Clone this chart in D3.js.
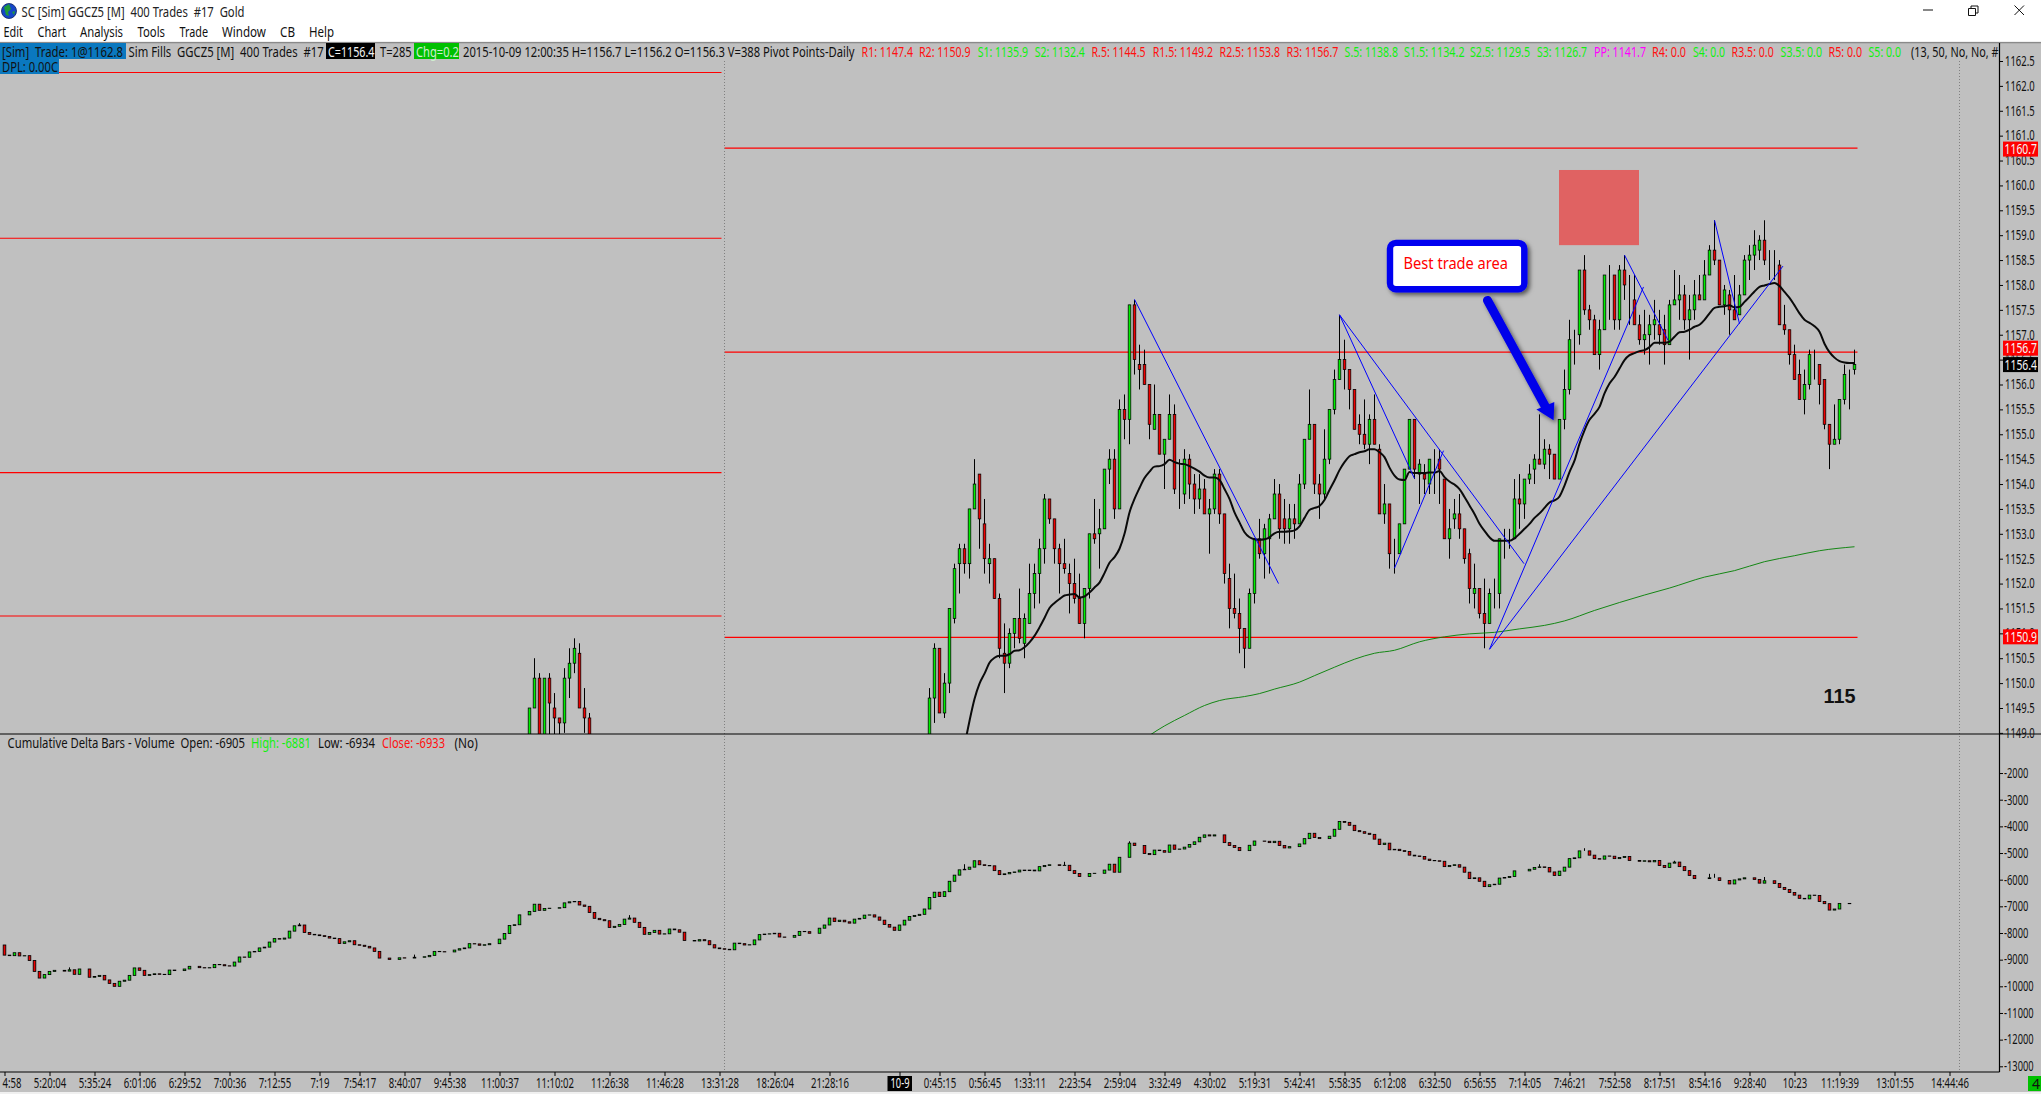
<!DOCTYPE html>
<html>
<head>
<meta charset="utf-8">
<title>SC GGCZ5 400 Trades</title>
<script src="https://cdn.jsdelivr.net/npm/d3@7"></script>
<style>
  html, body { margin: 0; padding: 0; background: #fff; overflow: hidden; }
  svg { display: block; }
  text { font-family: "Liberation Sans Narrow", "Noto Sans", sans-serif; font-size: 13.5px; fill: #111; }
</style>
</head>
<body>
<div id="chart"></div>
<script>
(function () {
  'use strict';

  // Price candles: bars 105-117 poke into the pane, 118-184 sit below it
  var barIndex = d3.range(105, 118).concat(d3.range(185, 371));
  var barOpen = [
    1148.8,1149.5,1150.1,1148.8,1150.1,1149.5,1149.3,1149.2,1150.1,1150.4,1150.6,1149.5,1149.3,
    1148.8,1149.7,1150.7,1149.4,1150.0,1151.3,1152.4,1152.7,1152.4,1153.5,
    1154.2,1153.2,1152.4,1152.5,1151.7,1150.6,1150.4,1151.0,1151.3,1150.8,
    1151.2,1151.8,1152.2,1152.7,1153.7,1153.3,1152.7,1152.4,1152.2,1152.0,
    1151.7,1151.2,1151.9,1153.0,1153.0,1153.1,1154.3,1154.5,1153.5,1155.5,
    1155.3,1157.6,1156.4,1156.4,1156.0,1155.1,1155.4,1154.6,1154.9,1155.4,
    1153.9,1153.8,1154.5,1154.0,1153.7,1153.9,1153.4,1153.5,1154.2,1153.4,
    1152.1,1151.5,1151.4,1151.1,1150.7,1151.8,1152.9,1152.6,1152.9,1153.3,
    1153.8,1153.3,1153.1,1153.3,1153.2,1154.0,1154.9,1155.2,1154.0,1153.8,
    1154.5,1155.5,1156.1,1156.5,1156.3,1155.9,1155.2,1155.0,1154.8,1155.3,
    1154.7,1153.4,1153.6,1152.6,1152.6,1153.2,1154.3,1155.3,1154.2,1154.2,
    1154.0,1154.5,1154.5,1154.1,1152.9,1153.3,1153.4,1153.1,1152.6,1151.8,
    1151.9,1151.4,1151.2,1151.8,1151.8,1152.9,1152.9,1152.9,1153.7,1153.6,
    1154.1,1154.3,1154.5,1154.4,1154.7,1154.6,1154.1,1155.3,1155.9,1156.9,
    1157.0,1158.3,1157.5,1157.3,1156.6,1157.1,1158.2,1158.2,1157.3,1158.3,
    1157.8,1157.7,1157.2,1156.9,1157.0,1157.2,1157.2,1157.1,1156.8,1157.6,
    1157.7,1157.8,1157.3,1157.5,1157.8,1157.7,1158.2,1158.7,1158.5,1157.6,
    1157.8,1157.5,1157.4,1157.8,1158.5,1158.6,1158.7,1158.9,1158.4,1158.4,
    1158.4,1157.2,1157.1,1156.6,1156.2,1155.7,1156.0,1156.6,1156.4,1156.1,
    1155.2,1154.8,1154.9,1155.7,1156.2,1156.3
  ];
  var barClose = [
    1149.5,1150.1,1148.8,1150.1,1149.6,1149.3,1149.2,1150.1,1150.4,1150.7,1149.5,1149.3,1148.8,
    1149.7,1150.7,1149.4,1150.0,1151.5,1152.3,1152.7,1152.4,1153.5,1154.0,
    1153.3,1152.5,1152.5,1151.7,1150.7,1150.4,1151.0,1151.3,1150.9,1151.3,
    1151.8,1152.2,1152.7,1153.7,1153.3,1152.7,1152.4,1152.3,1152.0,1151.7,
    1151.2,1151.9,1153.0,1152.9,1153.1,1154.3,1154.5,1153.5,1155.5,1155.3,
    1157.6,1156.5,1156.3,1156.0,1155.2,1155.4,1154.6,1154.9,1155.4,1153.9,
    1153.9,1154.5,1154.0,1153.7,1153.9,1153.4,1153.5,1154.2,1153.4,1152.2,
    1151.5,1151.4,1151.1,1150.7,1151.8,1152.9,1152.6,1153.1,1153.3,1153.8,
    1153.1,1153.1,1153.3,1153.2,1154.0,1154.9,1155.2,1154.0,1153.8,1154.5,
    1155.5,1156.1,1156.5,1156.3,1155.9,1155.1,1155.0,1154.8,1155.3,1154.8,
    1153.4,1153.6,1152.6,1152.6,1153.2,1154.3,1155.3,1154.3,1154.4,1154.1,
    1154.5,1154.5,1154.3,1152.9,1153.1,1153.4,1153.1,1152.5,1151.9,1151.9,
    1151.4,1151.2,1151.8,1151.8,1152.9,1152.9,1152.9,1153.7,1153.6,1154.1,
    1154.2,1154.5,1154.4,1154.7,1154.6,1154.1,1155.3,1155.9,1156.9,1156.9,
    1158.3,1157.5,1157.3,1156.6,1157.1,1158.2,1158.2,1157.3,1158.3,1158.0,
    1157.8,1157.2,1156.9,1157.0,1157.2,1157.3,1157.0,1156.8,1157.6,1157.7,
    1157.8,1157.3,1157.5,1157.8,1157.7,1158.2,1158.7,1158.5,1157.6,1157.9,
    1157.5,1157.3,1157.8,1158.5,1158.6,1158.8,1158.9,1158.5,1158.4,1158.4,
    1157.2,1157.1,1156.6,1156.1,1155.7,1156.0,1156.6,1156.6,1156.0,1155.2,
    1154.8,1154.9,1155.7,1156.2,1156.2,1156.4
  ];
  var barHigh = [
    1149.5,1150.5,1150.2,1150.1,1150.2,1149.8,1149.3,1150.3,1150.7,1150.9,1150.8,1149.9,1149.4,
    1149.9,1150.8,1150.7,1150.2,1151.5,1152.4,1152.8,1152.8,1153.5,1154.5,
    1154.2,1153.7,1152.8,1152.5,1151.8,1151.2,1151.1,1151.3,1151.9,1151.4,
    1152.4,1152.4,1152.9,1153.8,1153.7,1153.3,1152.8,1152.9,1152.4,1152.5,
    1152.2,1151.9,1153.0,1153.7,1153.5,1154.3,1154.7,1154.7,1155.7,1155.8,
    1157.6,1157.7,1156.8,1156.7,1156.0,1156.0,1155.4,1154.9,1155.8,1155.6,
    1154.5,1154.7,1154.6,1154.2,1154.2,1154.1,1153.7,1154.3,1154.3,1153.4,
    1152.4,1152.2,1151.7,1151.1,1151.9,1152.9,1153.3,1153.2,1153.4,1154.1,
    1154.0,1153.7,1153.6,1153.6,1154.2,1154.9,1155.9,1155.2,1154.2,1155.1,
    1155.5,1156.3,1157.4,1156.9,1156.3,1155.9,1155.4,1155.7,1155.4,1155.8,
    1154.8,1154.0,1153.6,1152.9,1153.2,1154.3,1155.3,1155.3,1154.5,1154.4,
    1154.5,1154.7,1154.7,1154.1,1153.5,1153.7,1153.8,1153.1,1152.7,1152.4,
    1151.9,1152.1,1151.9,1152.1,1152.9,1153.1,1153.1,1154.1,1154.2,1154.1,
    1154.4,1154.6,1155.4,1154.9,1154.8,1154.6,1155.3,1156.3,1157.3,1157.1,
    1158.3,1158.6,1157.6,1157.4,1157.3,1158.2,1158.4,1158.2,1158.4,1158.6,
    1158.2,1158.2,1157.4,1157.5,1157.4,1157.7,1157.5,1157.4,1157.7,1158.3,
    1158.2,1158.0,1157.8,1158.1,1158.2,1158.5,1158.8,1159.3,1158.5,1158.0,
    1157.9,1158.2,1158.0,1158.6,1158.8,1159.1,1159.0,1159.3,1158.7,1158.7,
    1158.5,1157.6,1157.1,1156.8,1156.5,1156.3,1156.7,1156.7,1156.4,1156.1,
    1155.2,1155.6,1155.7,1156.4,1156.3,1156.7
  ];
  var barLow = [
    1148.8,1149.5,1148.8,1148.8,1148.8,1148.8,1148.8,1149.0,1149.7,1150.2,1149.5,1149.0,1148.8,
    1148.8,1149.2,1149.4,1149.3,1149.8,1151.2,1151.8,1152.2,1152.1,1153.5,
    1152.7,1152.2,1152.0,1151.7,1150.5,1149.8,1150.3,1150.7,1150.8,1150.5,
    1151.2,1151.5,1151.6,1152.4,1153.2,1152.4,1151.8,1152.2,1151.4,1151.6,
    1151.2,1150.9,1151.7,1152.8,1152.3,1153.1,1154.0,1153.3,1153.5,1154.9,
    1154.8,1156.2,1155.9,1156.0,1154.9,1155.1,1154.6,1153.9,1154.9,1153.8,
    1153.5,1153.6,1153.7,1153.4,1153.5,1153.4,1152.6,1153.4,1153.2,1152.0,
    1151.1,1151.3,1150.6,1150.3,1150.7,1151.6,1152.5,1152.1,1152.2,1153.3,
    1152.9,1152.8,1152.8,1152.9,1153.2,1153.9,1154.9,1153.8,1153.3,1153.7,
    1154.4,1155.4,1156.1,1155.9,1155.5,1155.1,1154.8,1154.7,1154.4,1154.8,
    1153.4,1153.2,1152.3,1152.2,1152.6,1153.2,1154.3,1154.1,1153.6,1153.8,
    1153.8,1153.8,1153.6,1152.9,1152.5,1153.1,1152.9,1152.4,1151.6,1151.5,
    1151.3,1150.7,1151.2,1151.5,1151.5,1152.5,1152.7,1152.9,1153.1,1153.3,
    1154.0,1154.0,1154.4,1154.3,1154.1,1154.1,1154.1,1155.1,1155.8,1156.4,
    1156.8,1157.4,1157.1,1156.6,1156.3,1157.1,1157.3,1157.1,1157.1,1157.7,
    1157.2,1157.2,1156.8,1156.6,1156.4,1156.9,1156.8,1156.4,1156.8,1157.6,
    1157.3,1157.1,1156.5,1157.3,1157.7,1157.7,1158.2,1158.4,1157.6,1157.4,
    1157.0,1157.3,1157.4,1157.8,1158.1,1158.3,1158.5,1158.4,1158.1,1158.1,
    1157.2,1157.0,1156.4,1156.1,1155.7,1155.4,1155.9,1156.1,1155.6,1155.1,
    1154.3,1154.8,1154.8,1155.6,1155.5,1156.2
  ];

  // 13 period average, one value per bar from bar 192 on
  var fastMaBars = d3.range(192, 371);
  var fastMa = [
    1148.74,1149.24,1149.68,1149.99,1150.19,1150.41,1150.51,1150.55,1150.55,1150.58,1150.65,1150.66,1150.72,
    1150.82,1150.95,1151.12,1151.31,1151.51,1151.61,1151.69,1151.76,1151.78,1151.79,
    1151.72,1151.74,1151.82,1151.92,1152.02,1152.21,1152.42,1152.53,1152.70,1153.00,
    1153.43,1153.70,1153.92,1154.12,1154.25,1154.35,1154.36,1154.40,1154.49,1154.44,
    1154.41,1154.40,1154.36,1154.31,1154.25,1154.17,1154.13,1154.13,1154.08,1153.90,
    1153.70,1153.43,1153.23,1153.03,1152.93,1152.89,1152.88,1152.89,1152.93,1153.01,
    1153.04,1153.04,1153.05,1153.07,1153.15,1153.32,1153.48,1153.52,1153.56,1153.68,
    1153.88,1154.07,1154.28,1154.44,1154.56,1154.60,1154.64,1154.66,1154.70,1154.70,
    1154.64,1154.54,1154.33,1154.17,1154.09,1154.08,1154.24,1154.22,1154.22,1154.22,
    1154.23,1154.23,1154.26,1154.14,1154.05,1153.99,1153.90,1153.74,1153.57,1153.40,
    1153.20,1153.06,1152.93,1152.86,1152.86,1152.86,1152.86,1152.91,1153.00,1153.10,
    1153.20,1153.32,1153.41,1153.52,1153.63,1153.67,1153.75,1153.97,1154.24,1154.47,
    1154.81,1155.08,1155.29,1155.41,1155.55,1155.82,1156.02,1156.15,1156.32,1156.49,
    1156.59,1156.63,1156.67,1156.69,1156.75,1156.84,1156.84,1156.84,1156.86,1156.96,
    1157.05,1157.06,1157.10,1157.16,1157.20,1157.30,1157.43,1157.54,1157.56,1157.57,
    1157.59,1157.55,1157.56,1157.66,1157.76,1157.87,1157.96,1157.99,1158.02,1158.04,
    1157.98,1157.86,1157.74,1157.59,1157.43,1157.30,1157.24,1157.17,1157.06,1156.82,
    1156.65,1156.54,1156.47,1156.44,1156.43,1156.43
  ];

  // 50 period average
  var slowMaBars = [228,229,232,236,240,243,248,251,254,259,262,266,270,274,278,283,288,293,298,303,308,312,318,323,328,333,340,346,352,358,363,370];
  var slowMa = [1148.88,1148.95,1149.14,1149.35,1149.55,1149.65,1149.73,1149.79,1149.88,1150.02,1150.15,1150.32,1150.48,1150.60,1150.66,1150.83,1150.93,1150.99,1151.02,1151.09,1151.16,1151.25,1151.46,1151.62,1151.77,1151.91,1152.13,1152.26,1152.44,1152.56,1152.66,1152.74];

  // Pivot lines per session
  var pivotsDayOne = [1162.27, 1158.94, 1154.23, 1151.35];
  var pivotsDayTwo = [1160.75, 1156.65, 1150.92];
  var dayBreakBar = 144;
  var lastBar = 370;

  var priceTicks = d3.range(1162.5, 1148.9, -0.5);
  var deltaTicks = d3.range(-2000, -13001, -1000);

  // Cumulative delta, close of every bar (each bar opens at the previous close)
  var deltaFirstOpen = -8450;
  var deltaClose = [
    -8830,-8850,-8740,-8860,-8850,-9030,-9440,-9690,-9560,-9440,
    -9400,-9400,-9430,-9380,-9550,-9350,-9350,-9660,-9630,-9590,
    -9760,-9890,-10000,-9810,-9770,-9590,-9310,-9400,-9590,-9560,
    -9530,-9550,-9560,-9390,-9410,-9410,-9350,-9250,-9250,-9300,
    -9310,-9300,-9180,-9190,-9230,-9240,-9090,-8900,-8910,-8710,
    -8690,-8560,-8530,-8340,-8210,-8230,-8190,-7930,-7730,-7700,
    -7980,-8050,-8070,-8100,-8130,-8190,-8210,-8390,-8330,-8290,
    -8440,-8460,-8500,-8560,-8690,-8940,-8940,-8990,-8990,-8930,
    -8940,-8940,-8910,-8910,-8890,-8840,-8690,-8700,-8710,-8710,
    -8640,-8590,-8560,-8400,-8410,-8460,-8440,-8400,-8400,-8230,
    -8020,-7720,-7690,-7320,-7320,-7190,-6920,-7150,-7080,-7070,
    -7070,-7050,-6870,-6830,-6820,-6950,-7000,-7230,-7450,-7500,
    -7540,-7790,-7750,-7680,-7480,-7440,-7600,-7790,-8050,-7980,
    -7900,-8040,-8030,-7850,-7880,-7970,-8280,-8280,-8300,-8250,
    -8290,-8440,-8560,-8590,-8610,-8630,-8380,-8400,-8450,-8440,
    -8260,-8060,-8040,-8030,-8010,-8150,-8160,-8160,-8090,-7940,
    -7950,-8010,-8010,-7820,-7700,-7440,-7570,-7520,-7580,-7630,
    -7480,-7450,-7330,-7320,-7400,-7520,-7680,-7780,-7900,-7700,
    -7520,-7380,-7340,-7300,-7100,-6670,-6470,-6630,-6450,-6060,
    -5830,-5630,-5610,-5530,-5290,-5440,-5470,-5480,-5660,-5810,
    -5780,-5730,-5710,-5640,-5660,-5640,-5670,-5510,-5470,-5440,
    -5440,-5470,-5460,-5660,-5770,-5880,-5880,-5770,-5760,-5760,
    -5640,-5420,-5720,-5160,-5160,-4630,-4720,-4720,-5020,-5060,
    -4890,-4910,-4970,-4700,-4860,-4850,-4780,-4680,-4580,-4410,
    -4320,-4360,-4320,-4320,-4610,-4720,-4790,-4910,-4910,-4710,
    -4550,-4550,-4560,-4610,-4560,-4720,-4810,-4760,-4760,-4660,
    -4460,-4260,-4420,-4460,-4460,-4370,-4110,-3820,-3850,-3960,
    -4160,-4200,-4260,-4300,-4480,-4680,-4630,-4880,-4860,-4910,
    -4940,-5080,-5110,-5130,-5230,-5280,-5290,-5310,-5510,-5470,
    -5440,-5530,-5720,-5960,-5930,-6060,-6260,-6190,-6170,-5940,
    -5920,-5880,-5670,-5670,-5670,-5610,-5540,-5520,-5540,-5710,
    -5840,-5680,-5530,-5210,-5180,-4920,-4920,-5080,-5210,-5230,
    -5110,-5120,-5210,-5170,-5130,-5280,-5280,-5310,-5290,-5330,
    -5280,-5470,-5540,-5380,-5340,-5510,-5660,-5840,-5960,-5960,
    -5960,-5930,-5930,-6030,-6030,-6160,-6010,-5970,-5930,-5930,
    -5990,-6130,-6040,-6040,-6140,-6290,-6370,-6480,-6580,-6700,
    -6720,-6580,-6590,-6820,-6900,-7140,-7100,-6890,-6890,-6900,
    -6900
  ];
  // The few wicks that stand out on the delta bars
  var deltaWickBars = [13, 59, 82, 125, 192, 212, 225, 307, 316, 334, 341, 342, 352];
  var deltaWickTops = [-9290, -7630, -8810, -7330, -5420, -5330, -4560, -5420, -4820, -5290, -5780, -5780, -5900];

  var timeTickBars = [0,9,18,27,36,45,54,63,71,80,89,99,110,121,132,143,154,165,179,187,196,205,214,223,232,241,250,259,268,277,286,295,304,313,322,331,340,349,358,367,378,389];
  var timeTickLabels = ['4:58','5:20:04','5:35:24','6:01:06','6:29:52','7:00:36','7:12:55','7:19','7:54:17','8:40:07','9:45:38','11:00:37','11:10:02','11:26:38','11:46:28','13:31:28','18:26:04','21:28:16','10-9','0:45:15','0:56:45','1:33:11','2:23:54','2:59:04','3:32:49','4:30:02','5:19:31','5:42:41','5:58:35','6:12:08','6:32:50','6:56:55','7:14:05','7:46:21','7:52:58','8:17:51','8:54:16','9:28:40','10:23','11:19:39','13:01:55','14:44:46'];

  // Hand drawn zig-zags on the chart: [bar, price, bar, price]
  var trendLines = [
    [226.0, 1157.71, 254.8, 1152.00],
    [267.0, 1157.40, 303.9, 1152.40],
    [267.0, 1157.40, 282.0, 1154.11],
    [278.0, 1152.31, 287.8, 1154.67],
    [297.0, 1150.68, 327.8, 1157.96],
    [297.0, 1150.68, 355.7, 1158.38],
    [324.0, 1158.60, 332.7, 1156.89],
    [342.0, 1159.30, 347.0, 1157.22]
  ];

  // Layout
  var width = 2041, height = 1094;
  var paneTop = 43, paneBottom = 734, deltaBottom = 1072, axisX = 1999.5;
  var gray = '#c0c0c0', upColor = '#00f000', downColor = '#f00000';

  var x = d3.scaleLinear().domain([0, lastBar]).range([4.5, 1854.5]);
  var y = d3.scaleLinear().domain([1162.5, 1149.5]).range([61, 708]);
  var yDelta = d3.scaleLinear().domain([-3000, -13000]).range([799.7, 1066.3]);

  var svg = d3.select('#chart').append('svg')
    .attr('width', width).attr('height', height)
    .attr('viewBox', [0, 0, width, height]);

  var defs = svg.append('defs');
  defs.append('clipPath').attr('id', 'pane-clip').append('rect')
    .attr('x', 0).attr('y', paneTop).attr('width', axisX).attr('height', paneBottom - paneTop);
  var shadow = defs.append('filter').attr('id', 'soft-shadow')
    .attr('x', '-20%').attr('y', '-20%').attr('width', '150%').attr('height', '150%');
  shadow.append('feDropShadow').attr('dx', 2.5).attr('dy', 2.5).attr('stdDeviation', 2)
    .attr('flood-color', '#000').attr('flood-opacity', 0.55);

  // Window chrome and chart background
  svg.append('rect').attr('width', width).attr('height', height).attr('fill', '#fff');
  svg.append('rect').attr('y', 41).attr('width', width).attr('height', 1.5).attr('fill', '#f0f0f0');
  svg.append('rect').attr('y', 42).attr('width', width).attr('height', 1050).attr('fill', gray);
  svg.append('rect').attr('y', 42).attr('width', width).attr('height', 1.3).attr('fill', '#8a8a8a');
  svg.append('rect').attr('y', 1092).attr('width', width).attr('height', 2).attr('fill', '#f0f0f0');

  // Text squeezed between two x positions, like the narrow font of the original
  function fitted(text, x0, x1, yc, color, parent) {
    return (parent || svg).append('text')
      .attr('x', x0).attr('y', yc)
      .attr('dominant-baseline', 'central')
      .attr('textLength', x1 - x0)
      .attr('lengthAdjust', 'spacingAndGlyphs')
      .style('fill', color || '#111')
      .text(text);
  }
  // Axis labels: width from the digit count, whichever font got picked
  function squeeze(sel) {
    sel.each(function () {
      var s = this.textContent;
      var w = s.replace(/[^0-9]/g, '').length * 5.35 + s.replace(/[0-9]/g, '').length * 2.9;
      d3.select(this).attr('textLength', w).attr('lengthAdjust', 'spacingAndGlyphs');
    });
  }
  function box(x0, x1, y0, y1, color) {
    svg.append('rect').attr('x', x0).attr('y', y0)
      .attr('width', x1 - x0).attr('height', y1 - y0).attr('fill', color);
  }

  // Globe icon + title bar + menu
  svg.append('circle').attr('cx', 9).attr('cy', 11).attr('r', 7.5).attr('fill', '#1546c8').attr('stroke', '#0b2060').attr('stroke-width', 0.8);
  svg.append('path').attr('d', 'M4,7 L9,4 L11,9 L8,12 L9,16 L6,15 Z M12,12 L15,11 L14,15 Z').attr('fill', '#1f9a3a');
  fitted('SC [Sim] GGCZ5 [M]  400 Trades  #17  Gold', 21.5, 244.5, 12, '#222').attr('xml:space', 'preserve');
  [['Edit', 3.6, 23], ['Chart', 37.5, 66], ['Analysis', 80, 123], ['Tools', 137.5, 165], ['Trade', 179.5, 208],
   ['Window', 222, 266], ['CB', 280, 295], ['Help', 309, 334]].forEach(function (m) {
    fitted(m[0], m[1], m[2], 32, '#111');
  });
  svg.append('path').attr('d', 'M1923,10H1933').attr('stroke', '#111').attr('fill', 'none');
  svg.append('path').attr('d', 'M1968.5,8.5h7v7h-7z M1971,8.5v-2.5h7v7h-2.5').attr('stroke', '#111').attr('fill', 'none');
  svg.append('path').attr('d', 'M2014.5,5.5L2024,15 M2024,5.5L2014.5,15').attr('stroke', '#111').attr('fill', 'none');

  // Pivot lines, per session
  var pivots = svg.append('g').attr('stroke', '#ff0000').attr('stroke-width', 1.1);
  pivots.selectAll('.one').data(pivotsDayOne).join('line')
    .attr('x1', 0).attr('x2', x(dayBreakBar) - 3)
    .attr('y1', y).attr('y2', y);
  pivots.selectAll('.two').data(pivotsDayTwo).join('line')
    .attr('x1', x(dayBreakBar)).attr('x2', x(lastBar) + 3)
    .attr('y1', y).attr('y2', y);

  // Session and end-of-chart dotted separators
  svg.selectAll('.sep').data([dayBreakBar, 391]).join('line')
    .attr('x1', x).attr('x2', x)
    .attr('y1', paneTop + 18).attr('y2', deltaBottom)
    .attr('stroke', '#808080').attr('stroke-width', 1).attr('stroke-dasharray', '1 2');

  // Candles
  var candles = barIndex.map(function (b, i) {
    return { bar: b, open: barOpen[i], high: barHigh[i], low: barLow[i], close: barClose[i] };
  });
  var pricePane = svg.append('g').attr('clip-path', 'url(#pane-clip)');
  pricePane.selectAll('.wick').data(candles).join('line')
    .attr('x1', function (d) { return x(d.bar); }).attr('x2', function (d) { return x(d.bar); })
    .attr('y1', function (d) { return y(d.high); }).attr('y2', function (d) { return y(d.low); })
    .attr('stroke', '#000').attr('stroke-width', 1);
  pricePane.selectAll('.body').data(candles).join('rect')
    .attr('x', function (d) { return x(d.bar) - 1.3; })
    .attr('width', 2.6)
    .attr('y', function (d) { return y(Math.max(d.open, d.close)); })
    .attr('height', function (d) { return Math.abs(y(d.open) - y(d.close)); })
    .attr('fill', function (d) { return d.close >= d.open ? upColor : downColor; })
    .attr('stroke', '#000').attr('stroke-width', 0.75);

  // Moving averages
  var maLine = d3.line().curve(d3.curveMonotoneX)
    .x(function (d) { return x(d[0]); })
    .y(function (d) { return y(d[1]); });
  pricePane.append('path').datum(d3.zip(slowMaBars, slowMa))
    .attr('d', maLine).attr('fill', 'none').attr('stroke', '#008000').attr('stroke-width', 0.9);
  pricePane.append('path').datum(d3.zip(fastMaBars, fastMa))
    .attr('d', maLine).attr('fill', 'none').attr('stroke', '#0a0a0a').attr('stroke-width', 2);

  // Blue zig-zag lines
  pricePane.selectAll('.trend').data(trendLines).join('line')
    .attr('x1', function (d) { return x(d[0]); }).attr('y1', function (d) { return y(d[1]); })
    .attr('x2', function (d) { return x(d[2]); }).attr('y2', function (d) { return y(d[3]); })
    .attr('stroke', '#0000ff').attr('stroke-width', 1);

  // Red box above the best area
  svg.append('rect')
    .attr('x', x(310.9)).attr('y', y(1160.31))
    .attr('width', x(326.9) - x(310.9)).attr('height', y(1158.8) - y(1160.31))
    .attr('fill', '#e06262');

  // Callout with arrow
  var callout = svg.append('g').attr('filter', 'url(#soft-shadow)');
  callout.append('rect')
    .attr('x', x(276.46) + 3.2).attr('y', y(1158.91) + 3.2)
    .attr('width', x(304.6) - x(276.46) - 6.4).attr('height', y(1157.85) - y(1158.91) - 6.4)
    .attr('rx', 6).attr('fill', '#fff').attr('stroke', '#0000f0').attr('stroke-width', 6.4);
  var arrow = svg.append('g').attr('filter', 'url(#soft-shadow)');
  arrow.append('line')
    .attr('x1', x(296.6)).attr('y1', y(1157.69))
    .attr('x2', x(308.1)).attr('y2', y(1155.57))
    .attr('stroke', '#0000ea').attr('stroke-width', 9).attr('stroke-linecap', 'round');
  arrow.append('polygon')
    .attr('points', [[x(309.96), y(1155.65)], [x(306.38), y(1155.50)], [x(309.82), y(1155.28)]].join(' '))
    .attr('fill', '#0000ea');
  fitted('Best trade area', 1403.6, 1508, 262.5, '#ff0000')
    .style('font-family', '"Noto Sans", sans-serif').style('font-size', '15.5px');

  svg.append('text').attr('x', x(367)).attr('y', y(1149.76))
    .attr('text-anchor', 'middle').attr('dominant-baseline', 'central')
    .attr('textLength', 32).attr('lengthAdjust', 'spacingAndGlyphs')
    .style('font-family', '"Liberation Sans", Arial, sans-serif').style('font-size', '21px')
    .style('font-weight', 'bold').text('115');

  // Delta bars
  var deltaBars = deltaClose.map(function (c, i) {
    return { bar: i, open: i ? deltaClose[i - 1] : deltaFirstOpen, close: c };
  });
  var deltaPane = svg.append('g');
  deltaPane.selectAll('.dwick').data(d3.zip(deltaWickBars, deltaWickTops)).join('line')
    .attr('x1', function (d) { return x(d[0]); }).attr('x2', function (d) { return x(d[0]); })
    .attr('y1', function (d) { return yDelta(d[1]); })
    .attr('y2', function (d) { return yDelta(deltaBars[d[0]].close); })
    .attr('stroke', '#000').attr('stroke-width', 1);
  deltaPane.selectAll('.dbody').data(deltaBars).join('rect')
    .attr('x', function (d) { return x(d.bar) - 1.3; })
    .attr('width', 2.6)
    .attr('y', function (d) { return yDelta(Math.max(d.open, d.close)); })
    .attr('height', function (d) { return Math.abs(yDelta(d.open) - yDelta(d.close)); })
    .attr('fill', function (d) { return d.close >= d.open ? upColor : downColor; })
    .attr('stroke', '#000').attr('stroke-width', 0.85);

  // Pane borders
  svg.append('line').attr('x1', 0).attr('x2', width).attr('y1', paneBottom).attr('y2', paneBottom)
    .attr('stroke', '#000').attr('stroke-width', 1.2);

  // Right axes
  var priceAxis = svg.append('g').attr('transform', 'translate(' + axisX + ',0)')
    .call(d3.axisRight(y).tickValues(priceTicks).tickFormat(d3.format('.1f')).tickSize(3.5).tickPadding(2));
  var deltaAxis = svg.append('g').attr('transform', 'translate(' + axisX + ',0)')
    .call(d3.axisRight(yDelta).tickValues(deltaTicks)
      .tickFormat(function (d) { return String(d); }).tickSize(3.5).tickPadding(1));
  [priceAxis, deltaAxis].forEach(function (a) {
    a.select('.domain').remove();
    a.selectAll('line').attr('stroke', '#000');
    a.selectAll('text').style('font-size', '13.5px').style('font-family', '"Liberation Sans Narrow", "Noto Sans", sans-serif').style('fill', '#111');
    squeeze(a.selectAll('text'));
  });
  svg.append('line').attr('x1', axisX).attr('x2', axisX).attr('y1', paneTop).attr('y2', deltaBottom)
    .attr('stroke', '#000').attr('stroke-width', 1.2);

  // Last-value tags on the price axis
  var tagValues = [1160.7, 1156.7, 1156.4, 1150.9];
  var tagColors = ['#ff0000', '#ff0000', '#000000', '#ff0000'];
  tagValues.forEach(function (v, i) {
    var yc = y(v) - (i === 2 ? 0 : 1.5);
    box(2003, 2038, yc - 7.5, yc + 7.5, tagColors[i]);
    fitted(d3.format('.1f')(v), 2004.5, 2037, yc, '#f4f4f4');
  });

  // Time axis
  svg.append('line').attr('x1', 0).attr('x2', axisX).attr('y1', deltaBottom).attr('y2', deltaBottom)
    .attr('stroke', '#000').attr('stroke-width', 1.2);
  var timeAxis = svg.append('g').attr('transform', 'translate(0,' + deltaBottom + ')')
    .call(d3.axisBottom(x).tickValues(timeTickBars)
      .tickFormat(function (d) { return timeTickLabels[timeTickBars.indexOf(d)]; })
      .tickSize(4).tickPadding(2));
  timeAxis.select('.domain').remove();
  timeAxis.selectAll('line').attr('stroke', '#000');
  timeAxis.selectAll('text').style('font-size', '13.5px').style('font-family', '"Liberation Sans Narrow", "Noto Sans", sans-serif').style('fill', '#111');
  squeeze(timeAxis.selectAll('text'));
  // Cut-off first label and the black date tag
  timeAxis.selectAll('text').filter(function (d) { return d === 0; })
    .attr('text-anchor', 'start').attr('x', -2.5);
  box(887.5, 912, 1076, 1091, '#000');
  timeAxis.raise();
  timeAxis.selectAll('text').filter(function (d) { return d === 179; }).style('fill', '#f4f4f4');

  // Study header, top of the chart
  box(0, 126, 43, 59, '#0a78bf');
  box(0, 59, 59, 74, '#0a78bf');
  box(326, 375, 43, 59, '#000');
  box(414, 459, 43, 59, '#00c000');
  var row1 = 51.5;
  fitted('[Sim]  Trade: 1@1162.8', 2, 123, row1).attr('xml:space', 'preserve');
  fitted('DPL: 0.00C', 2, 58, 66.5);
  fitted('Sim Fills  GGCZ5 [M]  400 Trades  #17', 128.6, 323.7, row1).attr('xml:space', 'preserve');
  fitted('C=1156.4', 328, 374.5, row1, '#f4f4f4');
  fitted('T=285', 380, 411.6, row1);
  fitted('Chg=0.2', 416, 459, row1, '#cfeecf');
  fitted('2015-10-09 12:00:35 H=1156.7 L=1156.2 O=1156.3 V=388 Pivot Points-Daily', 463, 854.5, row1);

  var red = '#ff1010', green = '#10f010', magenta = '#ff00ff';
  [['R1: 1147.4', 861.6, 913, red], ['R2: 1150.9', 919, 970.5, red], ['S1: 1135.9', 977.7, 1028, green],
   ['S2: 1132.4', 1034.8, 1084.8, green], ['R.5: 1144.5', 1091.5, 1145.5, red], ['R1.5: 1149.2', 1152.7, 1213, red],
   ['R2.5: 1153.8', 1219.6, 1280, red], ['R3: 1156.7', 1286.6, 1338.4, red], ['S.5: 1138.8', 1344.6, 1398, green],
   ['S1.5: 1134.2', 1404, 1464.6, green], ['S2.5: 1129.5', 1470, 1530, green], ['S3: 1126.7', 1537, 1587, green],
   ['PP: 1141.7', 1594, 1646, magenta], ['R4: 0.0', 1652, 1686, red], ['S4: 0.0', 1693, 1725, green],
   ['R3.5: 0.0', 1731.6, 1773.7, red], ['S3.5: 0.0', 1780.6, 1822, green], ['R5: 0.0', 1828.5, 1862, red],
   ['S5: 0.0', 1868.5, 1901, green], ['(13, 50, No, No, #', 1911, 1998.5, '#111']].forEach(function (s) {
    fitted(s[0], s[1], s[2], row1, s[3]);
  });

  // Delta pane header
  var row2 = 743;
  fitted('Cumulative Delta Bars - Volume  Open: -6905', 7.6, 245, row2).attr('xml:space', 'preserve');
  fitted('High: -6881', 251, 311, row2, green);
  fitted('Low: -6934', 318, 375, row2);
  fitted('Close: -6933', 382, 445, row2, red);
  fitted('(No)', 454.5, 477.7, row2);

  // Status box, bottom right
  box(2028, 2041, 1076, 1091, '#00c000');
  fitted('4', 2032, 2040, 1083.5, '#111');
})();
</script>
</body>
</html>
